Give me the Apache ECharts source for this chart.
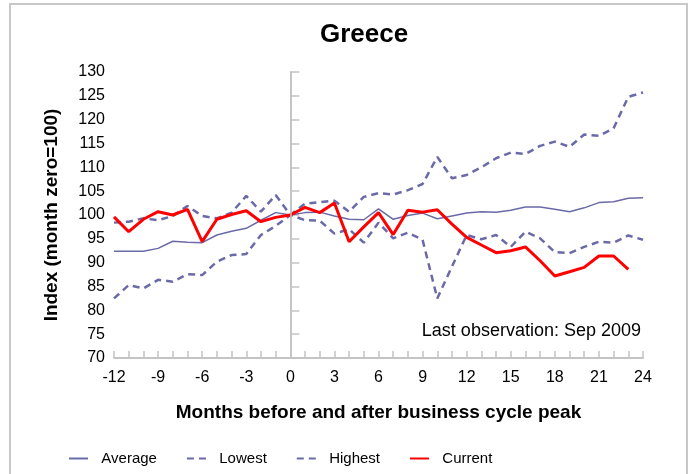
<!DOCTYPE html>
<html>
<head>
<meta charset="utf-8">
<script src="https://cdn.jsdelivr.net/npm/echarts@6/dist/echarts.min.js"></script>
<style>
  html, body { margin: 0; padding: 0; background: #fff; }
  #chart { width: 694px; height: 474px; }
</style>
</head>
<body>
<div id="chart"></div>
<script>
// months before/after the peak
var months = [];
for (var m = -12; m <= 24; m++) months.push(m);

var average = [92.4, 92.4, 92.4, 93.0, 94.5, 94.3, 94.2, 95.8, 96.6, 97.2, 98.9, 100.5, 100,
    100.5, 100.6, 99.8, 99.1, 99.0, 101.3, 99.1, 99.9, 100.4, 99.2, 99.8, 100.4,
    100.7, 100.6, 101.0, 101.7, 101.7, 101.2, 100.7, 101.5, 102.6, 102.8, 103.5, 103.6];
var lowest = [82.5, 85.3, 84.6, 86.4, 86.0, 87.6, 87.4, 90.2, 91.6, 91.8, 95.8, 97.7, 100,
    98.9, 98.8, 96.1, 97.0, 94.2, 98.4, 95.1, 96.3, 94.8, 82.5, 89.2, 95.8,
    94.9, 95.8, 93.3, 96.5, 95.1, 92.2, 92.0, 93.3, 94.4, 94.2, 95.7, 94.8];
var highest = [98.4, 98.6, 99.3, 98.9, 99.8, 101.9, 99.8, 99.3, 100.5, 104.0, 100.7, 104.2, 100,
    102.4, 102.7, 103.0, 100.7, 103.8, 104.6, 104.3, 105.2, 106.5, 112.2, 107.7, 108.4,
    110.0, 111.9, 113.1, 112.8, 114.5, 115.4, 114.3, 116.9, 116.6, 118.2, 124.8, 125.7];
var current = [99.6, 96.5, 99.1, 100.7, 100.0, 101.2, 94.4, 99.1, 100.1, 100.9, 98.6, 99.5, 100,
    101.6, 100.5, 102.5, 94.4, 97.5, 100.5, 95.9, 101.0, 100.6, 101.1, 98.1, 95.3,
    93.7, 92.1, 92.5, 93.3, 90.4, 87.2, 88.1, 89.0, 91.4, 91.4, 88.6, null];

var font = 'Arial, "Liberation Sans", sans-serif';
var blue = '#6a6aa8';
var grey = '#c4c4c4';

function pairs(arr) {
    var out = [];
    for (var i = 0; i < months.length; i++) {
        if (arr[i] != null) out.push([months[i], arr[i]]);
    }
    return out;
}

var mychart = echarts.init(document.getElementById('chart'));
var option = {
    animation: false,
    title: {
        text: 'Greece',
        left: 359,
        textAlign: 'center',
        top: 17,
        textStyle: { fontFamily: font, fontSize: 26, fontWeight: 'bold', color: '#000' }
    },
    graphic: [
        {
            type: 'rect',
            shape: { x: 10, y: 4, width: 677, height: 500 },
            style: { fill: 'none', stroke: '#c8c8c8', lineWidth: 2 }
        },
        {
            type: 'text',
            right: 53,
            top: 322,
            style: { text: 'Last observation: Sep 2009', font: '18px ' + font, fill: '#000' }
        }
    ],
    legend: {
        left: 63,
        top: 446,
        itemWidth: 19,
        itemHeight: 10,
        itemGap: 29,
        itemStyle: { opacity: 0 },
        formatter: function (name) { return '  ' + name; },
        textStyle: { fontFamily: font, fontSize: 15, color: '#000' },
        data: ['Average', 'Lowest', 'Highest', 'Current']
    },
    grid: { left: 114, right: 51, top: 72, bottom: 116 },
    xAxis: {
        type: 'value',
        min: -12,
        max: 24,
        interval: 3,
        name: 'Months before and after business cycle peak',
        nameLocation: 'middle',
        nameGap: 45,
        nameTextStyle: { fontFamily: font, fontSize: 19, fontWeight: 'bold', color: '#000' },
        axisLine: { lineStyle: { color: grey, width: 2 } },
        axisTick: { inside: true, length: 7, lineStyle: { color: grey, width: 1.5 } },
        minorTick: { show: true, splitNumber: 3, length: 7, lineStyle: { color: grey, width: 1.5 } },
        axisLabel: { fontFamily: font, fontSize: 16, color: '#000', margin: 12 },
        splitLine: { show: false }
    },
    yAxis: {
        type: 'value',
        min: 70,
        max: 130,
        interval: 5,
        name: 'Index (month zero=100)',
        nameLocation: 'middle',
        nameGap: 53,
        nameTextStyle: { fontFamily: font, fontSize: 19, fontWeight: 'bold', color: '#000' },
        axisLine: { show: true, lineStyle: { color: grey, width: 2 } },
        axisTick: { show: true, inside: true, length: 9, lineStyle: { color: grey, width: 1.5 } },
        axisLabel: { fontFamily: font, fontSize: 16, color: '#000', margin: 9 },
        splitLine: { show: false }
    },
    series: [
        {
            name: 'Average',
            type: 'line',
            data: pairs(average),
            symbol: 'none',
            color: blue,
            lineStyle: { color: blue, width: 1.5 },
            markLine: {
                silent: true,
                symbol: 'none',
                label: { show: false },
                lineStyle: { color: grey, width: 1.5, type: 'solid' },
                data: [{ xAxis: 0 }]
            },
            z: 3
        },
        {
            name: 'Lowest',
            type: 'line',
            data: pairs(lowest),
            symbol: 'none',
            color: blue,
            lineStyle: { color: blue, width: 2.5, type: [7, 5] },
            z: 3
        },
        {
            name: 'Highest',
            type: 'line',
            data: pairs(highest),
            symbol: 'none',
            color: blue,
            lineStyle: { color: blue, width: 2.5, type: [7, 5] },
            z: 3
        },
        {
            name: 'Current',
            type: 'line',
            data: pairs(current),
            symbol: 'none',
            color: '#ff0000',
            lineStyle: { color: '#ff0000', width: 3 },
            z: 4
        }
    ]
};
mychart.setOption(option, true);
</script>
</body>
</html>
